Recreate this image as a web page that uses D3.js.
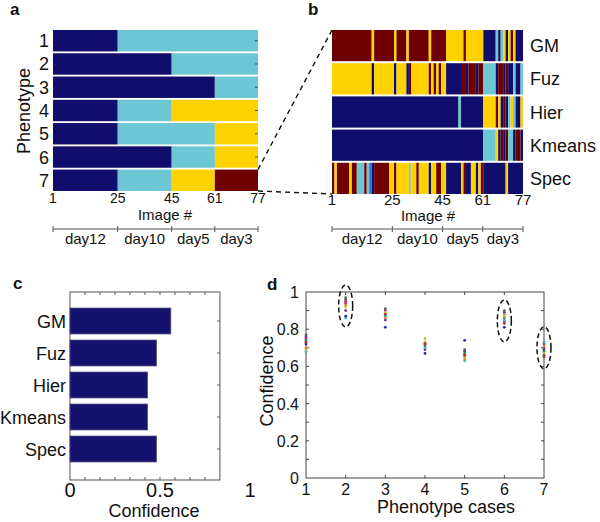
<!DOCTYPE html>
<html>
<head>
<meta charset="utf-8">
<script src="https://cdn.jsdelivr.net/npm/d3@7"></script>
<style>
  body { margin: 0; background: #fff; }
  text { font-family: "Liberation Sans", Arial, Helvetica, sans-serif; fill: #111; }
</style>
</head>
<body>
<script>
// ---------------- DATA ----------------
const imageTicks = [1, 25, 45, 61, 77];
const dayLabels = ["day12", "day10", "day5", "day3"];
const dayBounds = [1, 25, 45, 61, 77];

// Panel a: phenotype cases, segments [fromImage, toImage, cluster]
const phenotypes = [1, 2, 3, 4, 5, 6, 7];
const phenotypeSegments = [
  [[1, 25, "B"], [25, 77, "C"]],
  [[1, 45, "B"], [45, 77, "C"]],
  [[1, 61, "B"], [61, 77, "C"]],
  [[1, 25, "B"], [25, 45, "C"], [45, 77, "Y"]],
  [[1, 25, "B"], [25, 61, "C"], [61, 77, "Y"]],
  [[1, 45, "B"], [45, 61, "C"], [61, 77, "Y"]],
  [[1, 25, "B"], [25, 45, "C"], [45, 61, "Y"], [61, 77, "R"]]
];

// Panel b: cluster label per image (run-length: [cluster, count]) for each method
const methods = ["GM", "Fuz", "Hier", "Kmeans", "Spec"];
const runsGM = [["R",16],["Y",1],["R",8],["Y",1],["R",4],["Y",1],["R",8],["Y",1],["R",6],["Y",7],["R",1],["Y",7],
  ["B",5],["C",1],["B",1],["C",1],["Y",1],["B",1],["Y",1],["R",1],["Y",1],["B",3]];
const runsFuz = [["Y",16],["B",1],["Y",8],["B",1],["Y",4],["B",1],["R",1],["Y",7],["R",1],["Y",1],["R",1],["Y",1],["R",1],["Y",2],
  ["B",6],["R",2],["B",1],["R",3],["B",1],["R",2],["C",5],["B",1],["R",2],["B",1],["R",1],["B",2],["C",1],["B",2],["C",1]];
const runsHier = [["B",51],["C",1],["B",9],["Y",5],["R",1],["Y",1],["B",1],["R",1],["B",1],["C",1],["Y",1],["C",1],["B",2],["Y",1]];
const runsKmeans = [["B",61],["C",5],["Y",1],["B",1],["R",1],["B",1],["R",1],["C",2],["B",1],["R",2],["B",1]];
const runsSpec = [["R",1],["Y",1],["R",5],["Y",1],["R",2],["C",3],["R",1],["C",1],["L",1],["B",1],["R",6],["Y",2],["R",1],["Y",5],["G",1],
  ["Y",2],["R",1],["Y",4],["B",1],["Y",2],["R",2],["Y",2],["B",6],["Y",1],["R",1],["B",2],["Y",2],["B",1],["Y",1],["R",1],["B",9],["Y",1],["B",6]];
const methodRuns = [runsGM, runsFuz, runsHier, runsKmeans, runsSpec];

// Panel c: mean confidence per method
const confidence = [0.56, 0.48, 0.43, 0.43, 0.48];
const confTicks = [0, 0.5, 1];

// Panel d: confidence per phenotype case for several runs
const cases = [1, 2, 3, 4, 5, 6, 7];
const runColors = ["#24249c", "#6a2a9a", "#b02a8e", "#2a8a3c", "#3cb4c4", "#c4c426", "#e08a26", "#5a5a5a", "#c42a2a"];
const runValues = [
  [0.72, 0.87, 0.81, 0.67, 0.74, 0.81, 0.69],
  [0.76, 0.90, 0.85, 0.69, 0.68, 0.89, 0.72],
  [0.75, 0.94, 0.90, 0.72, 0.66, 0.84, 0.70],
  [0.74, 0.97, 0.88, 0.71, 0.67, 0.86, 0.68],
  [0.68, 0.86, 0.87, 0.70, 0.63, 0.85, 0.73],
  [0.69, 0.92, 0.89, 0.75, 0.65, 0.87, 0.67],
  [0.70, 0.93, 0.86, 0.73, 0.64, 0.88, 0.71],
  [0.77, 0.96, 0.91, 0.72, 0.69, 0.90, 0.66],
  [0.73, 0.95, 0.88, 0.72, 0.66, 0.83, 0.65]
];
const highlightCases = [[2, 0.925], [6, 0.845], [7, 0.70]];
const yTicksD = [0, 0.2, 0.4, 0.6, 0.8, 1];

const clusterColor = { B: "#110d6c", C: "#6cc6d4", Y: "#fdd200", R: "#6e0000", L: "#2f6fd0", G: "#a6c890" };

// ---------------- DRAW ----------------
const svg = d3.select("body").append("svg").attr("width", 600).attr("height", 522);

function panelLabel(t, x, y) {
  svg.append("text").attr("x", x).attr("y", y).attr("font-size", 17).attr("font-weight", "bold").text(t);
}

function dayAxis(scale, y, fs) {
  const g = svg.append("g");
  g.append("line").attr("x1", scale(dayBounds[0])).attr("x2", scale(dayBounds[dayBounds.length - 1]))
    .attr("y1", y).attr("y2", y).attr("stroke", "#555").attr("stroke-width", 1);
  g.selectAll("line.t").data(dayBounds).enter().append("line")
    .attr("x1", d => scale(d)).attr("x2", d => scale(d)).attr("y1", y - 3).attr("y2", y + 3)
    .attr("stroke", "#555").attr("stroke-width", 1);
  g.selectAll("text").data(dayLabels).enter().append("text")
    .attr("x", (d, i) => (scale(dayBounds[i]) + scale(dayBounds[i + 1])) / 2)
    .attr("y", y + 15).attr("text-anchor", "middle").attr("font-size", fs).text(d => d);
}

// ---- Panel a ----
panelLabel("a", 10, 15);
const xa = d3.scaleLinear().domain([1, 77]).range([53, 258]);
const ya = d3.scaleBand().domain(phenotypes).range([30, 191]).paddingInner(0.08);
const ga = svg.append("g");
phenotypes.forEach((p, i) => {
  ga.selectAll(null).data(phenotypeSegments[i]).enter().append("rect")
    .attr("x", d => xa(d[0])).attr("width", d => xa(d[1]) - xa(d[0]))
    .attr("y", ya(p)).attr("height", ya.bandwidth())
    .attr("fill", d => clusterColor[d[2]]);
});
ga.selectAll("line.rt").data(phenotypes).enter().append("line")
  .attr("x1", xa(77) - 3).attr("x2", xa(77)).attr("y1", d => ya(d) + ya.bandwidth() / 2).attr("y2", d => ya(d) + ya.bandwidth() / 2)
  .attr("stroke", "#333").attr("stroke-width", 0.8);
ga.selectAll("text.rl").data(phenotypes).enter().append("text")
  .attr("x", 49).attr("y", d => ya(d) + ya.bandwidth() / 2 + 6.5).attr("text-anchor", "end")
  .attr("font-size", 18).text(d => d);
svg.append("text").attr("transform", "translate(30,111) rotate(-90)").attr("text-anchor", "middle")
  .attr("font-size", 18).text("Phenotype");
svg.append("g").selectAll("text").data(imageTicks).enter().append("text")
  .attr("x", d => xa(d)).attr("y", 203).attr("text-anchor", "middle").attr("font-size", 14).text(d => d);
svg.append("text").attr("x", 165).attr("y", 220).attr("text-anchor", "middle").attr("font-size", 15).text("Image #");
dayAxis(xa, 229, 15);

// ---- Panel b ----
panelLabel("b", 308, 15);
const xb = d3.scaleLinear().domain([1, 77]).range([332, 523]);
const xbCell = d3.scaleLinear().domain([0, 77]).range([332, 523]);
const yb = d3.scaleBand().domain(methods).range([30, 194]).paddingInner(0.06);
const gb = svg.append("g");
methods.forEach((m, mi) => {
  // convert runs to [startCell, endCell, cluster]
  let pos = 0;
  const segs = methodRuns[mi].map(r => { const s = [pos, pos + r[1], r[0]]; pos += r[1]; return s; });
  gb.selectAll(null).data(segs).enter().append("rect")
    .attr("x", d => xbCell(d[0])).attr("width", d => xbCell(d[1]) - xbCell(d[0]))
    .attr("y", yb(m)).attr("height", yb.bandwidth())
    .attr("fill", d => clusterColor[d[2]]);
});
gb.selectAll("text.ml").data(methods).enter().append("text")
  .attr("x", 530).attr("y", d => yb(d) + yb.bandwidth() / 2 + 6.5).attr("font-size", 18).text(d => d);
svg.append("g").selectAll("text").data(imageTicks).enter().append("text")
  .attr("x", d => xb(d)).attr("y", 205).attr("text-anchor", "middle").attr("font-size", 15).text(d => d);
svg.append("text").attr("x", 428).attr("y", 221).attr("text-anchor", "middle").attr("font-size", 15).text("Image #");
dayAxis(xb, 229, 15);

// connector lines
const conn = svg.append("g").attr("stroke", "#111").attr("stroke-width", 1.4).attr("stroke-dasharray", "5,4").attr("fill", "none");
conn.append("line").attr("x1", xa(77)).attr("y1", ya(7)).attr("x2", xb(1)).attr("y2", 30);
conn.append("line").attr("x1", xa(77)).attr("y1", ya(7) + ya.bandwidth()).attr("x2", xb(1)).attr("y2", 194);

// ---- Panel c ----
panelLabel("c", 13, 289);
const xc = d3.scaleLinear().domain([0, 1]).range([70, 250]);
const cMax = 0.833;
const yc = d3.scaleBand().domain(methods).range([305, 465]).paddingInner(0.19).paddingOuter(0.095);
const cTop = 292, cBot = 480;
const gc = svg.append("g");
gc.append("rect").attr("x", xc(0)).attr("y", cTop).attr("width", xc(cMax) - xc(0)).attr("height", cBot - cTop)
  .attr("fill", "none").attr("stroke", "#555").attr("stroke-width", 1);
const cMinor = d3.range(1, 10).map(k => k * cMax / 10);
gc.selectAll("line.tt").data(cMinor).enter().append("line")
  .attr("x1", d => xc(d)).attr("x2", d => xc(d)).attr("y1", cTop).attr("y2", cTop + 3).attr("stroke", "#555");
gc.selectAll("line.bt").data(cMinor).enter().append("line")
  .attr("x1", d => xc(d)).attr("x2", d => xc(d)).attr("y1", cBot).attr("y2", cBot - 3).attr("stroke", "#555");
gc.selectAll("line.rt").data(methods).enter().append("line")
  .attr("x1", xc(cMax)).attr("x2", xc(cMax) - 3).attr("y1", d => yc(d) + yc.bandwidth() / 2).attr("y2", d => yc(d) + yc.bandwidth() / 2).attr("stroke", "#555");
gc.selectAll("rect.bar").data(confidence).enter().append("rect")
  .attr("x", xc(0)).attr("y", (d, i) => yc(methods[i])).attr("width", d => xc(d) - xc(0)).attr("height", yc.bandwidth())
  .attr("fill", "#15126e").attr("stroke", "#4a4a7a").attr("stroke-width", 0.8);
gc.selectAll("text.ml").data(methods).enter().append("text")
  .attr("x", 66).attr("y", d => yc(d) + yc.bandwidth() / 2 + 6.5).attr("text-anchor", "end").attr("font-size", 18).text(d => d);
gc.selectAll("text.tk").data(confTicks).enter().append("text")
  .attr("x", d => xc(d)).attr("y", 497).attr("text-anchor", "middle").attr("font-size", 20).text(d => d);
svg.append("text").attr("x", 154).attr("y", 517).attr("text-anchor", "middle").attr("font-size", 18).text("Confidence");

// ---- Panel d ----
panelLabel("d", 267, 290);
const xd = d3.scaleLinear().domain([1, 7]).range([306, 544]);
const yd = d3.scaleLinear().domain([0, 1]).range([478, 292]);
const gd = svg.append("g");
gd.append("rect").attr("x", xd(1)).attr("y", yd(1)).attr("width", xd(7) - xd(1)).attr("height", yd(0) - yd(1))
  .attr("fill", "none").attr("stroke", "#444").attr("stroke-width", 1);
const dMinorY = d3.range(1, 10).map(k => k / 10);
gd.selectAll("line.lt").data(dMinorY).enter().append("line")
  .attr("x1", xd(1)).attr("x2", xd(1) + 3).attr("y1", d => yd(d)).attr("y2", d => yd(d)).attr("stroke", "#444");
gd.selectAll("line.rt").data(dMinorY).enter().append("line")
  .attr("x1", xd(7)).attr("x2", xd(7) - 3).attr("y1", d => yd(d)).attr("y2", d => yd(d)).attr("stroke", "#444");
gd.selectAll("line.tt").data(cases.slice(1, 6)).enter().append("line")
  .attr("x1", d => xd(d)).attr("x2", d => xd(d)).attr("y1", yd(1)).attr("y2", yd(1) + 3).attr("stroke", "#444");
gd.selectAll("line.bt").data(cases.slice(1, 6)).enter().append("line")
  .attr("x1", d => xd(d)).attr("x2", d => xd(d)).attr("y1", yd(0)).attr("y2", yd(0) - 3).attr("stroke", "#444");
runValues.forEach((vals, ri) => {
  gd.selectAll(null).data(vals).enter().append("circle")
    .attr("cx", (d, i) => xd(cases[i])).attr("cy", d => yd(d)).attr("r", 1.4).attr("fill", runColors[ri]);
});
gd.selectAll("ellipse").data(highlightCases).enter().append("ellipse")
  .attr("cx", d => xd(d[0])).attr("cy", d => yd(d[1])).attr("rx", 7).attr("ry", 21)
  .attr("fill", "none").attr("stroke", "#111").attr("stroke-width", 1.5).attr("stroke-dasharray", "5,3");
gd.selectAll("text.yt").data(yTicksD).enter().append("text")
  .attr("x", 299).attr("y", d => yd(d) + 6).attr("text-anchor", "end").attr("font-size", 16).text(d => d);
gd.selectAll("text.xt").data(cases).enter().append("text")
  .attr("x", d => xd(d)).attr("y", 495).attr("text-anchor", "middle").attr("font-size", 16).text(d => d);
svg.append("text").attr("x", 446).attr("y", 513).attr("text-anchor", "middle").attr("font-size", 18).text("Phenotype cases");
svg.append("text").attr("transform", "translate(273,381) rotate(-90)").attr("text-anchor", "middle")
  .attr("font-size", 18).text("Confidence");
</script>
</body>
</html>
